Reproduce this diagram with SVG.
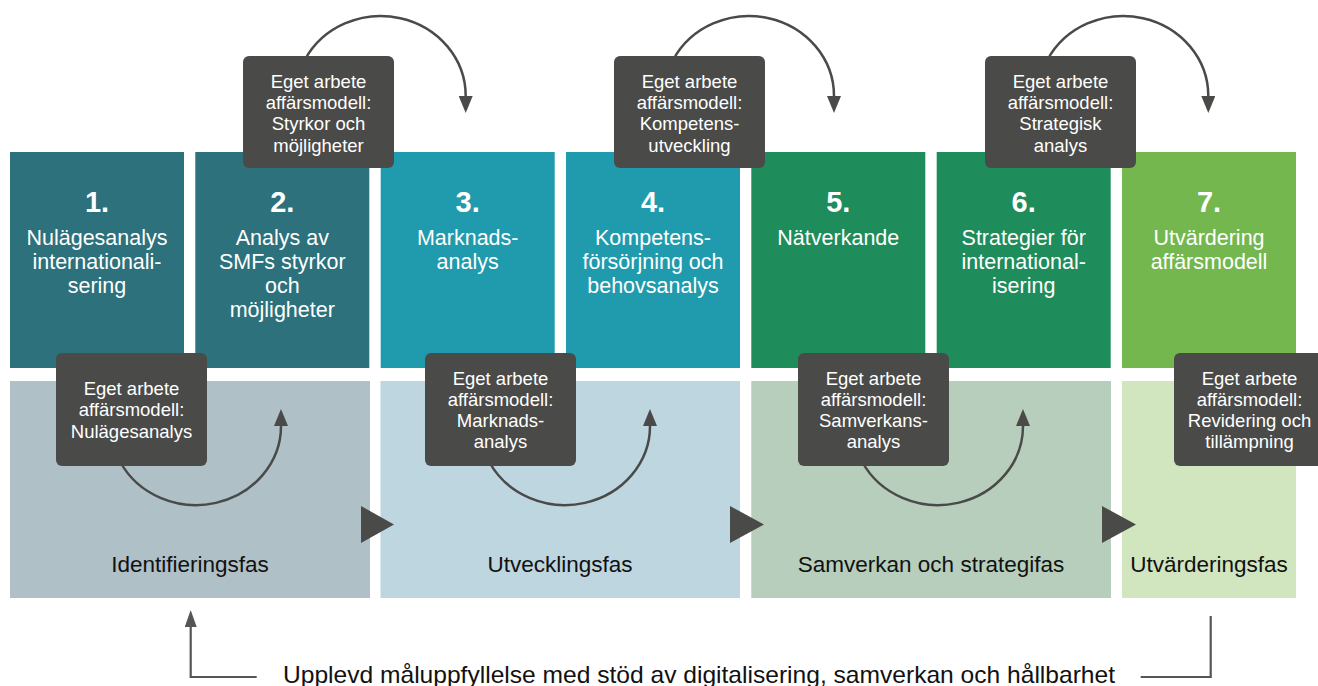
<svg xmlns="http://www.w3.org/2000/svg" width="1318" height="686" viewBox="0 0 1318 686">
<style>
text{font-family:"Liberation Sans",Arial,sans-serif;text-anchor:middle}
.num{fill:#fff;font-size:29px;font-weight:bold}
.ttl{fill:#fff;font-size:21.5px}
.note{fill:#fff;font-size:18.5px}
.phase{fill:#111;font-size:22.5px}
.dark{fill:#4a4a48}
.arc{fill:none;stroke:#4a4a48;stroke-width:2.5}
.fb{fill:none;stroke:#555;stroke-width:2.2}
</style>
<defs>
<marker id="ah" markerUnits="userSpaceOnUse" markerWidth="18" markerHeight="14" refX="0" refY="7" orient="auto" viewBox="0 0 18 14"><path d="M0,0 L17,7 L0,14 z" fill="#4a4a48"/></marker>
<marker id="ah2" markerUnits="userSpaceOnUse" markerWidth="18" markerHeight="12" refX="0" refY="6" orient="auto" viewBox="0 0 18 12"><path d="M0,0 L17,6 L0,12 z" fill="#555"/></marker>
</defs>
<rect width="1318" height="686" fill="#fff"/>

<g id="phase1"><rect x="10" y="381" width="360" height="217" fill="#afc0c7"/><text class="phase" x="190" y="572">Identifieringsfas</text></g>
<g id="phase2"><rect x="380.5" y="381" width="359.5" height="217" fill="#bdd6df"/><text class="phase" x="560" y="572">Utvecklingsfas</text></g>
<g id="phase3"><rect x="751.3" y="381" width="359.7" height="217" fill="#b6cebb"/><text class="phase" x="931" y="572">Samverkan och strategifas</text></g>
<g id="phase4"><rect x="1122" y="381" width="174" height="217" fill="#d1e5be"/><text class="phase" x="1209" y="572">Utvärderingsfas</text></g>

<g id="step1"><rect x="10" y="152" width="174" height="216" fill="#2c717b"/><text class="num" x="97" y="212">1.</text><text class="ttl" x="97" y="244.5">Nulägesanalys</text><text class="ttl" x="97" y="268.5">internationali-</text><text class="ttl" x="97" y="292.5">sering</text></g>
<g id="step2"><rect x="195.3" y="152" width="174" height="216" fill="#2c717b"/><text class="num" x="282.3" y="212">2.</text><text class="ttl" x="282.3" y="244.5">Analys av</text><text class="ttl" x="282.3" y="268.5">SMFs styrkor</text><text class="ttl" x="282.3" y="292.5">och</text><text class="ttl" x="282.3" y="316.5">möjligheter</text></g>
<g id="step3"><rect x="380.7" y="152" width="174" height="216" fill="#209bad"/><text class="num" x="467.7" y="212">3.</text><text class="ttl" x="467.7" y="244.5">Marknads-</text><text class="ttl" x="467.7" y="268.5">analys</text></g>
<g id="step4"><rect x="566" y="152" width="174" height="216" fill="#209bad"/><text class="num" x="653" y="212">4.</text><text class="ttl" x="653" y="244.5">Kompetens-</text><text class="ttl" x="653" y="268.5">försörjning och</text><text class="ttl" x="653" y="292.5">behovsanalys</text></g>
<g id="step5"><rect x="751.3" y="152" width="174" height="216" fill="#1f8c5b"/><text class="num" x="838.3" y="212">5.</text><text class="ttl" x="838.3" y="244.5">Nätverkande</text></g>
<g id="step6"><rect x="936.7" y="152" width="174" height="216" fill="#1f8c5b"/><text class="num" x="1023.7" y="212">6.</text><text class="ttl" x="1023.7" y="244.5">Strategier för</text><text class="ttl" x="1023.7" y="268.5">international-</text><text class="ttl" x="1023.7" y="292.5">isering</text></g>
<g id="step7"><rect x="1122" y="152" width="174" height="216" fill="#74b74f"/><text class="num" x="1209" y="212">7.</text><text class="ttl" x="1209" y="244.5">Utvärdering</text><text class="ttl" x="1209" y="268.5">affärsmodell</text></g>

<g id="connectors">
<path class="arc" d="M304.8 60 A85 80 0 0 1 465.7 96" marker-end="url(#ah)"/>
<path class="arc" d="M673.1 60 A85 80 0 0 1 834 96" marker-end="url(#ah)"/>
<path class="arc" d="M1047.4 60 A85 80 0 0 1 1208.3 96" marker-end="url(#ah)"/>
<path class="arc" d="M120.3 462 A85 79 0 0 0 281 426" marker-end="url(#ah)"/>
<path class="arc" d="M489.3 462 A85 79 0 0 0 650 426" marker-end="url(#ah)"/>
<path class="arc" d="M862.3 462 A85 79 0 0 0 1023 426" marker-end="url(#ah)"/>
<polygon class="dark" points="361,506 361,543 394,524.5"/>
<polygon class="dark" points="730,506 730,543 764,524.5"/>
<polygon class="dark" points="1102,506 1102,543 1136,524.5"/>
<path class="fb" d="M256.7 677 H190.7 V627" marker-end="url(#ah2)"/>
<path class="fb" d="M1140.7 677 H1210.7 V616"/>
</g>

<g id="note-top1"><rect class="dark" x="243" y="56" width="151" height="112" rx="6"/><text class="note" x="318.5" y="87.5">Eget arbete</text><text class="note" x="318.5" y="109">affärsmodell:</text><text class="note" x="318.5" y="130.3">Styrkor och</text><text class="note" x="318.5" y="151.6">möjligheter</text></g>
<g id="note-top2"><rect class="dark" x="614" y="56" width="151" height="112" rx="6"/><text class="note" x="689.5" y="87.5">Eget arbete</text><text class="note" x="689.5" y="109">affärsmodell:</text><text class="note" x="689.5" y="130.3">Kompetens-</text><text class="note" x="689.5" y="151.6">utveckling</text></g>
<g id="note-top3"><rect class="dark" x="985" y="56" width="151" height="112" rx="6"/><text class="note" x="1060.5" y="87.5">Eget arbete</text><text class="note" x="1060.5" y="109">affärsmodell:</text><text class="note" x="1060.5" y="130.3">Strategisk</text><text class="note" x="1060.5" y="151.6">analys</text></g>
<g id="note-bot1"><rect class="dark" x="56" y="353" width="151" height="113" rx="6"/><text class="note" x="131.5" y="395">Eget arbete</text><text class="note" x="131.5" y="416.3">affärsmodell:</text><text class="note" x="131.5" y="437.6">Nulägesanalys</text></g>
<g id="note-bot2"><rect class="dark" x="425" y="353" width="151" height="113" rx="6"/><text class="note" x="500.5" y="384.5">Eget arbete</text><text class="note" x="500.5" y="405.8">affärsmodell:</text><text class="note" x="500.5" y="427.1">Marknads-</text><text class="note" x="500.5" y="448.4">analys</text></g>
<g id="note-bot3"><rect class="dark" x="798" y="353" width="151" height="113" rx="6"/><text class="note" x="873.5" y="384.5">Eget arbete</text><text class="note" x="873.5" y="405.8">affärsmodell:</text><text class="note" x="873.5" y="427.1">Samverkans-</text><text class="note" x="873.5" y="448.4">analys</text></g>
<g id="note-bot4"><rect class="dark" x="1174" y="353" width="151" height="113" rx="6"/><text class="note" x="1249.5" y="384.5">Eget arbete</text><text class="note" x="1249.5" y="405.8">affärsmodell:</text><text class="note" x="1249.5" y="427.1">Revidering och</text><text class="note" x="1249.5" y="448.4">tillämpning</text></g>

<g id="footer"><text x="699" y="683" style="fill:#111;font-size:24px" textLength="832" lengthAdjust="spacingAndGlyphs">Upplevd måluppfyllelse med stöd av digitalisering, samverkan och hållbarhet</text></g>
</svg>
